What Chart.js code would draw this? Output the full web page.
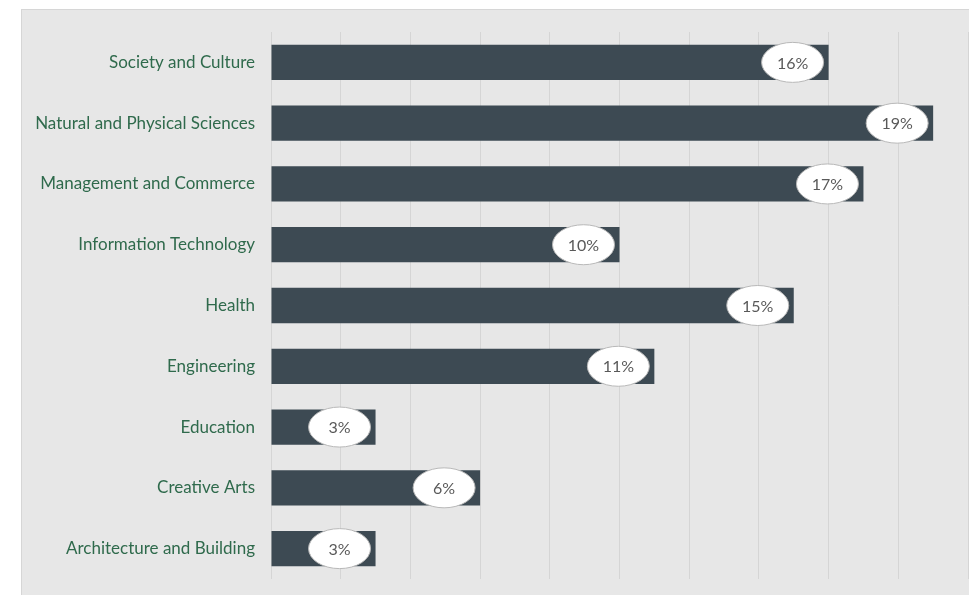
<!DOCTYPE html>
<html>
<head>
<meta charset="utf-8">
<script src="https://cdn.jsdelivr.net/npm/chart.js@4/dist/chart.umd.min.js"></script>
<style>
  html, body { margin: 0; padding: 0; background: #fff; }
  #panel {
    position: absolute; left: 21px; top: 9px;
    width: 948px; height: 586px;
    background: #e7e7e7;
    border-top: 1px solid #d6d6d6; border-left: 1px solid #d6d6d6;
  }
</style>
</head>
<body>
<div id="panel"><canvas id="barChart" width="948" height="585"></canvas></div>
<script>
const categories = [
  "Society and Culture",
  "Natural and Physical Sciences",
  "Management and Commerce",
  "Information Technology",
  "Health",
  "Engineering",
  "Education",
  "Creative Arts",
  "Architecture and Building",
];
const shares = [16, 19, 17, 10, 15, 11, 3, 6, 3];
const xTicks = [0, 2, 4, 6, 8, 10, 12, 14, 16, 18, 20];

// white ellipse labels near bar end
const bubbleLabels = {
  id: "bubbleLabels",
  afterDatasetsDraw(chart) {
    const ctx = chart.ctx;
    const meta = chart.getDatasetMeta(0);
    ctx.save();
    meta.data.forEach((bar, i) => {
      const cx = bar.x - 36;
      const cy = bar.y;
      ctx.beginPath();
      ctx.ellipse(cx, cy, 31, 20, 0, 0, Math.PI * 2);
      ctx.fillStyle = "#ffffff";
      ctx.fill();
      ctx.lineWidth = 1;
      ctx.strokeStyle = "#b8b8b8";
      ctx.stroke();
      ctx.fillStyle = "#595959";
      ctx.font = "16px Lato, 'Open Sans', sans-serif";
      ctx.textAlign = "center";
      ctx.textBaseline = "middle";
      ctx.fillText(shares[i] + "%", cx, cy + 1);
    });
    ctx.restore();
  },
};

function barChart() {
  const ctx = document.getElementById("barChart");
  if (!ctx) return;

  new Chart(ctx, {
    type: "bar",
    data: {
      labels: categories,
      datasets: [
        {
          label: "#",
          data: shares,
          backgroundColor: "#3d4a53",
          categoryPercentage: 0.58,
          barPercentage: 1,
        },
      ],
    },
    plugins: [bubbleLabels],
    options: {
      indexAxis: "y",
      responsive: false,
      animation: false,
      layout: {
        padding: { left: 0, right: 2, top: 22, bottom: 16 },
      },
      plugins: {
        legend: { display: false },
        tooltip: { enabled: false },
      },
      scales: {
        x: {
          min: 0,
          max: 20,
          afterBuildTicks: (axis) => {
            axis.ticks = xTicks.map((v) => ({ value: v }));
          },
          afterFit: (axis) => {
            axis.height = 0;
            axis.paddingLeft = 0;
            axis.paddingRight = 0;
          },
          ticks: { display: false },
          grid: { color: "#d5d5d5", drawTicks: false },
          border: { display: false },
        },
        y: {
          afterFit: (axis) => {
            axis.width = 249;
            axis.paddingTop = 0;
            axis.paddingBottom = 0;
          },
          ticks: {
            color: "#2f6a4c",
            padding: 16,
            font: { family: "Lato, 'Open Sans', sans-serif", size: 17 },
          },
          grid: { display: false, drawTicks: false },
          border: { display: false },
        },
      },
    },
  });
}

barChart();
</script>
</body>
</html>
